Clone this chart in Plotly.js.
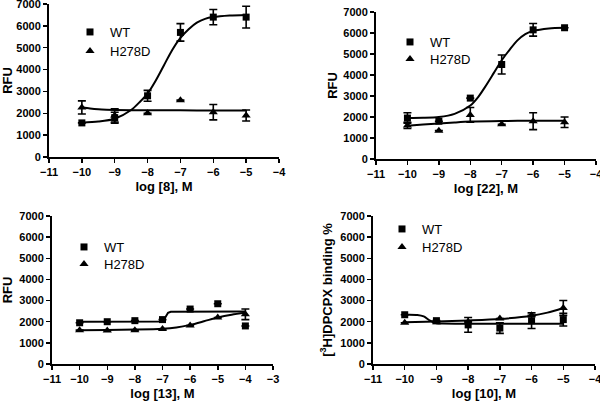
<!DOCTYPE html>
<html>
<head>
<meta charset="utf-8">
<script src="https://cdn.plot.ly/plotly-3.0.1.min.js"></script>
<style>html,body{margin:0;padding:0;background:#fff;}#chart{width:600px;height:401px;}</style>
</head>
<body>
<div id="chart"></div>
<script>
// ---------- data ----------
const doses = [-10, -9, -8, -7, -6, -5];
const dosesP3 = [-10, -9, -8, -7, -6, -5, -4];

// Panel 1: log [8]
const p1_wt = [1560, 1800, 2800, 5700, 6400, 6400];
const p1_wt_err = [null, 250, 250, 400, 350, 500];
const p1_mut = [2270, 1900, 2000, 2600, 2050, 1900];
const p1_mut_err = [300, 300, null, null, 350, 250];
const p1_wt_fit_x = [-10, -9.5, -9, -8.5, -8.25, -8, -7.75, -7.5, -7.25, -7, -6.75, -6.5, -6.25, -6, -5.5, -5];
const p1_wt_fit_y = [1570, 1620, 1750, 2150, 2500, 2900, 3500, 4200, 4900, 5450, 5850, 6150, 6320, 6400, 6470, 6500];
const p1_mut_fit_x = [-10, -9.75, -9.5, -9.25, -9, -8, -7, -6, -5];
const p1_mut_fit_y = [2280, 2220, 2180, 2160, 2150, 2140, 2135, 2130, 2130];

// Panel 2: log [22]
const p2_wt = [1950, 1800, 2900, 4500, 6150, 6250];
const p2_wt_err = [250, null, null, 450, 300, null];
const p2_mut = [1600, 1350, 2100, 1650, 1800, 1750];
const p2_mut_err = [150, null, 350, null, 400, 250];
const p2_wt_fit_x = [-10, -9.5, -9, -8.5, -8, -7.75, -7.5, -7.25, -7, -6.75, -6.5, -6.25, -6, -5.5, -5];
const p2_wt_fit_y = [1950, 1960, 2000, 2150, 2550, 2950, 3500, 4100, 4700, 5200, 5650, 5950, 6100, 6220, 6250];
const p2_mut_fit_x = [-10, -9.5, -9, -8.5, -8, -7, -6, -5];
const p2_mut_fit_y = [1580, 1640, 1690, 1740, 1780, 1810, 1820, 1820];

// Panel 3: log [13]
const p3_wt = [1950, 2000, 2050, 2100, 2600, 2850, 1800];
const p3_wt_err = [null, null, null, null, null, null, null];
const p3_mut = [1600, 1580, 1600, 1650, 1820, 2200, 2350];
const p3_mut_err = [null, null, null, null, null, null, 250];
const p3_wt_fit_x = [-10, -7.0, -6.9, -6.8, -6.7, -4];
const p3_wt_fit_y = [2000, 2010, 2200, 2420, 2470, 2480];
const p3_mut_fit_x = [-10, -9, -8, -7, -6.5, -6, -5.5, -5, -4.5, -4];
const p3_mut_fit_y = [1600, 1610, 1630, 1670, 1730, 1850, 2020, 2200, 2330, 2420];

// Panel 4: log [10]
const p4_wt = [2330, 2050, 1850, 1700, 2050, 2100];
const p4_wt_err = [null, null, 350, 250, 370, 300];
const p4_mut = [1950, 1980, 2000, 2150, 2300, 2650];
const p4_mut_err = [null, null, null, null, null, 350];
const p4_wt_fit_x = [-10, -9.6, -9.4, -9.2, -9.0, -8.8, -8, -5];
const p4_wt_fit_y = [2330, 2320, 2250, 2050, 1930, 1910, 1900, 1900];
const p4_mut_fit_x = [-10, -9, -8, -7, -6, -5.5, -5];
const p4_mut_fit_y = [1980, 2010, 2060, 2130, 2280, 2430, 2650];

const seriesNames = ['WT', 'H278D'];
const xTitles = ['log [8], M', 'log [22], M', 'log [13], M', 'log [10], M'];
const yTitles = ['RFU', 'RFU', 'RFU', '[<sup>3</sup>H]DPCPX binding %'];

// ---------- build ----------
const FONT = 'Liberation Sans, Arial, sans-serif';
const SYM = ['square', 'triangle-up'];
const SYMSIZE = [7, 8];
function pts(x, y, err, k, xa, ya) {
  return {
    x: x, y: y, type: 'scatter', mode: 'markers', name: seriesNames[k], showlegend: false,
    xaxis: xa, yaxis: ya,
    marker: {symbol: SYM[k], size: SYMSIZE[k], color: '#000'},
    error_y: {type: 'data', array: err, visible: true, color: '#000', thickness: 1.6, width: 4}
  };
}
function legendItem(k, xa, ya, leg) {
  return {
    x: [null], y: [null], type: 'scatter', mode: 'markers', name: seriesNames[k],
    xaxis: xa, yaxis: ya, legend: leg, showlegend: true,
    marker: {symbol: SYM[k], size: SYMSIZE[k], color: '#000'}
  };
}
function fit(x, y, xa, ya, shape) {
  return {
    x: x, y: y, type: 'scatter', mode: 'lines', showlegend: false,
    xaxis: xa, yaxis: ya, hoverinfo: 'skip',
    line: {color: '#000', width: 2, shape: shape || 'spline', smoothing: 0.8}
  };
}

const panels = [
  {x: doses, wt: p1_wt, wte: p1_wt_err, mu: p1_mut, mue: p1_mut_err, wfx: p1_wt_fit_x, wfy: p1_wt_fit_y, mfx: p1_mut_fit_x, mfy: p1_mut_fit_y, wshape: 'spline'},
  {x: doses, wt: p2_wt, wte: p2_wt_err, mu: p2_mut, mue: p2_mut_err, wfx: p2_wt_fit_x, wfy: p2_wt_fit_y, mfx: p2_mut_fit_x, mfy: p2_mut_fit_y, wshape: 'spline'},
  {x: dosesP3, wt: p3_wt, wte: p3_wt_err, mu: p3_mut, mue: p3_mut_err, wfx: p3_wt_fit_x, wfy: p3_wt_fit_y, mfx: p3_mut_fit_x, mfy: p3_mut_fit_y, wshape: 'linear'},
  {x: doses, wt: p4_wt, wte: p4_wt_err, mu: p4_mut, mue: p4_mut_err, wfx: p4_wt_fit_x, wfy: p4_wt_fit_y, mfx: p4_mut_fit_x, mfy: p4_mut_fit_y, wshape: 'spline'}
];

const W = 600, H = 401;
const boxes = [
  {x0: 49, x1: 279, top: 4, bot: 157, xr: [-11, -4], ystand: 11},
  {x0: 376, x1: 596, top: 12, bot: 159, xr: [-11, -4], ystand: 3},
  {x0: 52, x1: 273, top: 216, bot: 364, xr: [-11, -3], ystand: 6},
  {x0: 373, x1: 595, top: 216, bot: 364, xr: [-11, -4], ystand: 5}
];
// legend marker centres (px): [x, yWT, yH278D]
const legPos = [
  [70, 32, 51], [390, 42, 59], [64, 247, 264], [382, 229, 247]
];

const traces = [];
const layout = {
  width: W, height: H,
  margin: {l: 0, r: 0, t: 0, b: 0},
  paper_bgcolor: '#fff', plot_bgcolor: '#fff',
  font: {family: FONT, color: '#000'},
  showlegend: true
};

panels.forEach((p, i) => {
  const n = i === 0 ? '' : String(i + 1);
  const xa = 'x' + n, ya = 'y' + n;
  traces.push(fit(p.wfx, p.wfy, xa, ya, p.wshape));
  traces.push(fit(p.mfx, p.mfy, xa, ya, 'spline'));
  traces.push(pts(p.x, p.wt, p.wte, 0, xa, ya));
  traces.push(pts(p.x, p.mu, p.mue, 1, xa, ya));
  for (let k = 0; k < 2; k++) {
    const idx = i * 2 + k + 1;
    const leg = idx === 1 ? 'legend' : 'legend' + idx;
    traces.push(legendItem(k, xa, ya, leg));
    layout[leg] = {
      x: legPos[i][0] / W, y: 1 - legPos[i][k + 1] / H, xanchor: 'left', yanchor: 'middle',
      bgcolor: 'rgba(0,0,0,0)', borderwidth: 0,
      font: {family: FONT, size: 13, color: '#000'}
    };
  }
});

boxes.forEach((b, i) => {
  const n = i === 0 ? '' : String(i + 1);
  layout['xaxis' + n] = {
    domain: [b.x0 / W, b.x1 / W], anchor: 'y' + n, range: b.xr,
    tick0: -11, dtick: 1, ticks: 'outside', ticklen: 4, tickwidth: 1.5, tickcolor: '#000',
    showline: true, linewidth: 2, linecolor: '#000', showgrid: false, zeroline: false,
    tickfont: {family: FONT, size: 11, weight: 'bold', color: '#000'},
    ticklabeloverflow: 'allow',
    title: {text: xTitles[i], font: {family: FONT, size: 13, weight: 'bold', color: '#000'}, standoff: 5},
    automargin: false, fixedrange: true
  };
  layout['yaxis' + n] = {
    domain: [1 - b.bot / H, 1 - b.top / H], anchor: 'x' + n, range: [0, 7000],
    tick0: 0, dtick: 1000, ticks: 'outside', ticklen: 4, tickwidth: 1.5, tickcolor: '#000',
    showline: true, linewidth: 2, linecolor: '#000', showgrid: false, zeroline: false,
    tickfont: {family: FONT, size: 11, weight: 'bold', color: '#000'},
    ticklabeloverflow: 'allow',
    title: {text: yTitles[i], font: {family: FONT, size: 13, weight: 'bold', color: '#000'}, standoff: b.ystand},
    automargin: false, fixedrange: true
  };
});

Plotly.newPlot('chart', traces, layout, {displayModeBar: false, staticPlot: true});
</script>
</body>
</html>
